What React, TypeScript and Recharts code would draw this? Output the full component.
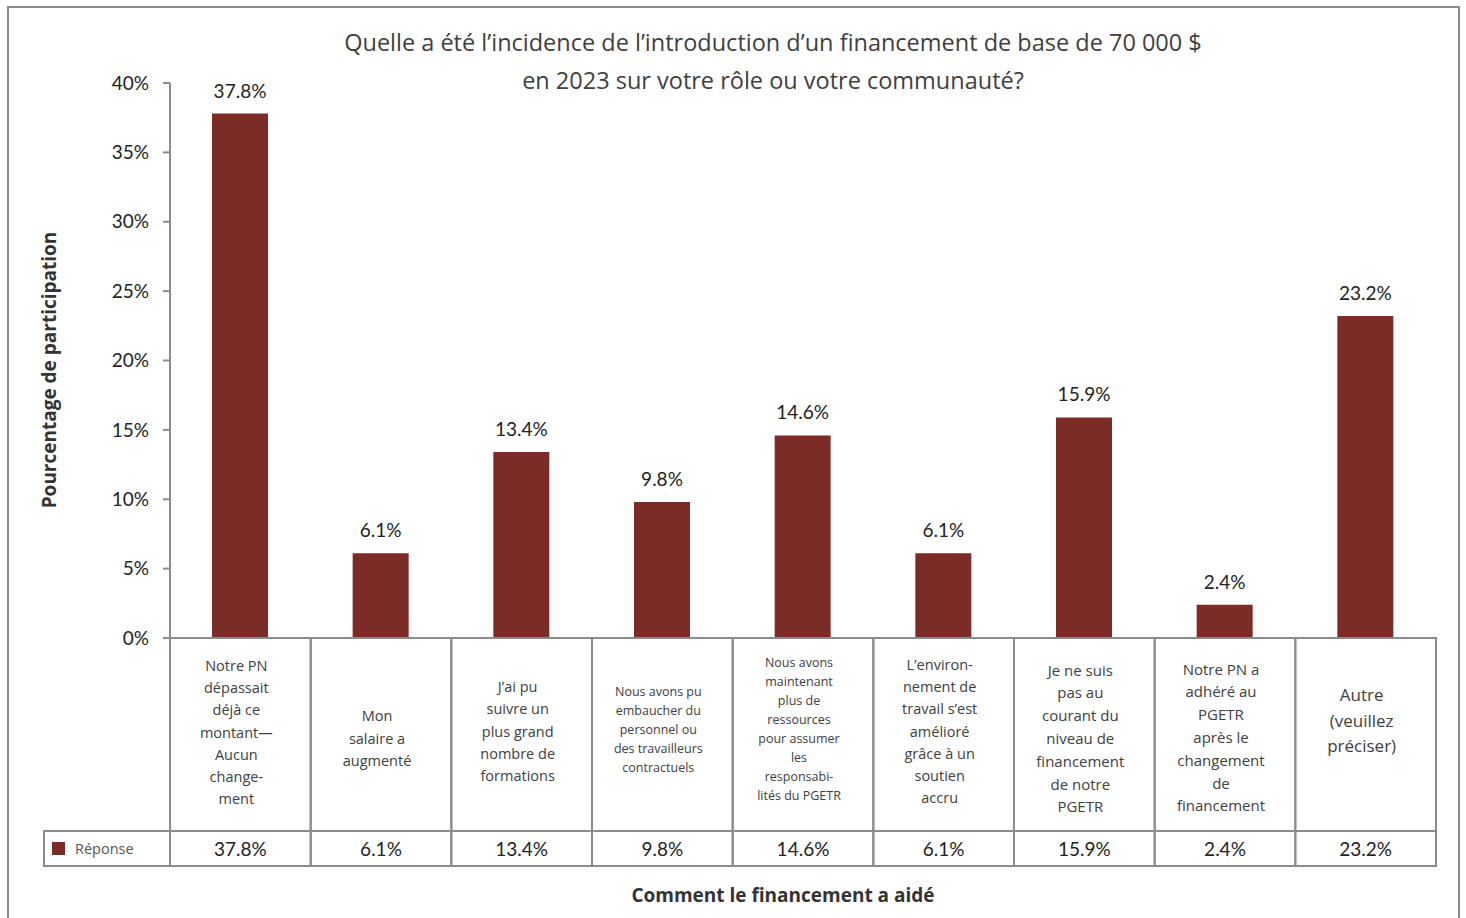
import React from "react";
import { Bar, BarChart, LabelList, XAxis, YAxis } from "recharts";

const chartTitle = [
  "Quelle a été l’incidence de l’introduction d’un financement de base de 70 000 $",
  "en 2023 sur votre rôle ou votre communauté?",
];
const seriesName = "Réponse";
const xAxisTitle = "Comment le financement a aidé";
const yAxisTitle = "Pourcentage de participation";

const categoryLines = [
  ["Notre PN", "dépassait", "déjà ce", "montant—", "Aucun", "change-", "ment"],
  ["Mon", "salaire a", "augmenté"],
  ["J’ai pu", "suivre un", "plus grand", "nombre de", "formations"],
  ["Nous avons pu", "embaucher du", "personnel ou", "des travailleurs", "contractuels"],
  ["Nous avons", "maintenant", "plus de", "ressources", "pour assumer", "les", "responsabi-", "lités du PGETR"],
  ["L’environ-", "nement de", "travail s’est", "amélioré", "grâce à un", "soutien", "accru"],
  ["Je ne suis", "pas au", "courant du", "niveau de", "financement", "de notre", "PGETR"],
  ["Notre PN a", "adhéré au", "PGETR", "après le", "changement", "de", "financement"],
  ["Autre", "(veuillez", "préciser)"],
];
const responseValues = [37.8, 6.1, 13.4, 9.8, 14.6, 6.1, 15.9, 2.4, 23.2];
const yTicks = [0, 5, 10, 15, 20, 25, 30, 35, 40];

// styling for the table cells (font size + vertical centre of each label block)
const labelFontSizes = [14.5, 14.5, 14.5, 12.5, 12.5, 14.5, 15, 15, 17];
const labelCenters = [94, 100, 93, 91, 91, 93, 100, 99, 82];

const W = 1466;
const H = 918;
const PLOT_LEFT = 170;
const PLOT_RIGHT = 1436;
const PLOT_TOP = 83;
const PLOT_BOTTOM = 638;
const BAND = (PLOT_RIGHT - PLOT_LEFT) / categoryLines.length;
const LABEL_ROW_H = 193;
const VALUE_ROW_H = 35;
const LEGEND_W = 126;

const BAR_COLOR = "#7B2C27";
const GRID = "#8c8c8c";
const NUM_FONT = "Lato, sans-serif";
const TEXT_FONT = "'Open Sans', sans-serif";

const fmt = (v: number) => `${v.toFixed(1)}%`;

const data = categoryLines.map((lines, i) => ({
  name: lines.join(" "),
  value: responseValues[i],
}));

const CategoryTick = (props: any) => {
  const { x, y, index } = props;
  const left = x - BAND / 2;
  const lines = categoryLines[index];
  const fs = labelFontSizes[index];
  const lh = fs * 1.52;
  const startY = y + labelCenters[index] - ((lines.length - 1) * lh) / 2;
  return (
    <g>
      <rect x={left} y={y} width={BAND} height={LABEL_ROW_H} fill="none" stroke={GRID} strokeWidth={2} />
      <rect
        x={left}
        y={y + LABEL_ROW_H}
        width={BAND}
        height={VALUE_ROW_H}
        fill="none"
        stroke={GRID}
        strokeWidth={2}
      />
      {lines.map((l, i) => (
        <text
          key={i}
          x={x - 4}
          y={startY + i * lh}
          textAnchor="middle"
          dominantBaseline="central"
          fontSize={fs}
          fill="#404040"
          fontFamily={TEXT_FONT}
        >
          {l}
        </text>
      ))}
      <text
        x={x}
        y={y + LABEL_ROW_H + VALUE_ROW_H / 2}
        textAnchor="middle"
        dominantBaseline="central"
        fontSize={19}
        fill="#222"
        fontFamily={NUM_FONT}
      >
        {fmt(responseValues[index])}
      </text>
      {index === 0 && (
        <g>
          <rect
            x={left - LEGEND_W}
            y={y + LABEL_ROW_H}
            width={LEGEND_W}
            height={VALUE_ROW_H}
            fill="none"
            stroke={GRID}
            strokeWidth={2}
          />
          <rect x={left - LEGEND_W + 8} y={y + LABEL_ROW_H + 11} width={13} height={13} fill={BAR_COLOR} />
          <text
            x={left - LEGEND_W + 31}
            y={y + LABEL_ROW_H + VALUE_ROW_H / 2}
            dominantBaseline="central"
            fontSize={14.5}
            fill="#555"
            fontFamily={TEXT_FONT}
          >
            {seriesName}
          </text>
        </g>
      )}
    </g>
  );
};

const App = () => {
  return (
    <div style={{ position: "absolute", left: 0, top: 0, width: W, height: H, background: "#fff", overflow: "hidden" }}>
      <div style={{ position: "absolute", left: 0, top: 0 }}>
        <BarChart
          width={W}
          height={H}
          data={data}
          margin={{ top: PLOT_TOP, right: W - PLOT_RIGHT, bottom: 0, left: 0 }}
          barCategoryGap={0}
        >
          <XAxis
            dataKey="name"
            height={H - PLOT_BOTTOM}
            interval={0}
            tickSize={0}
            tickMargin={0}
            tickLine={false}
            axisLine={{ stroke: GRID, strokeWidth: 2 }}
            tick={<CategoryTick />}
          />
          <YAxis
            width={PLOT_LEFT}
            domain={[0, 40]}
            ticks={yTicks}
            interval={0}
            tickFormatter={(v: number) => `${v}%`}
            tickSize={7}
            tickMargin={14}
            axisLine={{ stroke: GRID, strokeWidth: 2 }}
            tickLine={{ stroke: GRID, strokeWidth: 2 }}
            tick={{ fontSize: 19, fill: "#222", fontFamily: NUM_FONT }}
          />
          <Bar dataKey="value" fill={BAR_COLOR} barSize={56} isAnimationActive={false}>
            <LabelList
              dataKey="value"
              position="top"
              offset={16}
              formatter={(v: any) => fmt(Number(v))}
              style={{ fontSize: 19, fill: "#222", fontFamily: NUM_FONT }}
            />
          </Bar>
        </BarChart>
      </div>
      <svg
        width={W}
        height={H}
        style={{ position: "absolute", left: 0, top: 0, pointerEvents: "none" }}
      >
        <rect x={8} y={7} width={1451} height={940} fill="none" stroke={GRID} strokeWidth={2} />
        {chartTitle.map((t, i) => (
          <text
            key={i}
            x={773}
            y={42 + i * 38}
            textAnchor="middle"
            dominantBaseline="central"
            fontSize={23.5}
            fill="#404040"
            fontFamily={TEXT_FONT}
          >
            {t}
          </text>
        ))}
        <text
          x={49}
          y={370}
          transform="rotate(-90 49 370)"
          textAnchor="middle"
          dominantBaseline="central"
          fontSize={19}
          fontWeight="bold"
          fill="#333"
          fontFamily={TEXT_FONT}
        >
          {yAxisTitle}
        </text>
        <text
          x={783}
          y={895}
          textAnchor="middle"
          dominantBaseline="central"
          fontSize={19}
          fontWeight="bold"
          fill="#333"
          fontFamily={TEXT_FONT}
        >
          {xAxisTitle}
        </text>
      </svg>
    </div>
  );
};

export default App;
